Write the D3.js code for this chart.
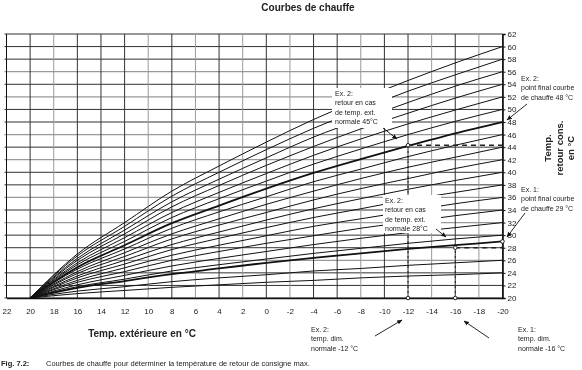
<!DOCTYPE html>
<html>
<head>
<meta charset="utf-8">
<script src="https://cdn.jsdelivr.net/npm/d3@7"></script>
<style>
  body { margin: 0; background: #fff; }
  #chart { will-change: transform; }
  svg { font-family: "Liberation Sans", Arial, Helvetica, sans-serif; -webkit-font-smoothing: antialiased; }
</style>
</head>
<body>
<div id="chart"></div>
<script>
// Température extérieure (axe x) et points lus sur chaque courbe
const outsideTemps = [20, 16, 12, 8, 4, 0, -4, -8, -12, -16, -20];

const c24 = [20, 20.7, 21.2, 21.7, 22.1, 22.5, 22.8, 23.2, 23.5, 23.7, 24];
const c26 = [20, 21.1, 21.8, 22.6, 23.2, 23.7, 24.3, 24.7, 25.2, 25.6, 26];
const c29 = [20, 21.6, 22.7, 23.8, 24.7, 25.6, 26.4, 27.1, 27.8, 28.4, 29];
const c30 = [20, 21.8, 23.0, 24.3, 25.3, 26.2, 27.1, 27.9, 28.7, 29.4, 30];
const c32 = [20, 22.1, 23.6, 25.1, 26.3, 27.4, 28.5, 29.5, 30.4, 31.2, 32];
const c34 = [20, 22.5, 24.2, 26.0, 27.4, 28.7, 29.9, 31.1, 32.1, 33.1, 34];
const c36 = [20, 22.8, 24.8, 26.8, 28.4, 29.9, 31.4, 32.6, 33.8, 35.0, 36];
const c38 = [20, 23.2, 25.4, 27.7, 29.5, 31.2, 32.8, 34.2, 35.6, 36.8, 38];
const c40 = [20, 23.5, 26.0, 28.5, 30.5, 32.4, 34.2, 35.8, 37.3, 38.7, 40];
const c42 = [20, 23.9, 26.6, 29.4, 31.6, 33.6, 35.6, 37.4, 39.0, 40.6, 42];
const c44 = [20, 24.2, 27.2, 30.2, 32.6, 34.9, 37.0, 39.0, 40.8, 42.4, 44];
const c46 = [20, 24.6, 27.8, 31.1, 33.7, 36.1, 38.5, 40.5, 42.5, 44.3, 46];
const c48 = [20, 24.9, 28.4, 31.9, 34.7, 37.4, 39.9, 42.1, 44.2, 46.2, 48];
const c50 = [20, 25.3, 29.0, 32.8, 35.8, 38.6, 41.3, 43.7, 46.0, 48.1, 50];
const c52 = [20, 25.6, 29.6, 33.6, 36.8, 39.8, 42.7, 45.3, 47.7, 49.9, 52];
const c54 = [20, 26.0, 30.2, 34.5, 37.9, 41.1, 44.1, 46.9, 49.4, 51.8, 54];
const c56 = [20, 26.3, 30.8, 35.3, 38.9, 42.3, 45.6, 48.4, 51.1, 53.7, 56];
const c58 = [20, 26.7, 31.4, 36.2, 40.0, 43.6, 47.0, 50.0, 52.9, 55.5, 58];
const c60 = [20, 27.0, 32.0, 37.0, 41.0, 44.8, 48.4, 51.6, 54.6, 57.4, 60];

const curves = [c24, c26, c29, c30, c32, c34, c36, c38, c40, c42, c44, c46, c48, c50, c52, c54, c56, c58, c60];
const boldCurves = [c48, c29];

const xTicks = [22, 20, 18, 16, 14, 12, 10, 8, 6, 4, 2, 0, -2, -4, -6, -8, -10, -12, -14, -16, -18, -20];
const yTicks = [20, 22, 24, 26, 28, 30, 32, 34, 36, 38, 40, 42, 44, 46, 48, 50, 52, 54, 56, 58, 60, 62];
const lightH = [56, 52, 46, 42, 36, 32, 26];
const lightV = [18, 10, 6, 2, -2, -8, -14, -18];

// exemples
const ex1 = { tout: -16, ret: 28, end: 29 };
const ex2 = { tout: -12, ret: 44.3, end: 48 };

const width = 582, height = 370;

const svg = d3.select("#chart").append("svg")
  .attr("width", width)
  .attr("height", height);

const x = d3.scaleLinear().domain([22, -20]).range([6.5, 502.5]);
const y = d3.scaleLinear().domain([20, 62]).range([298, 34]);

svg.append("defs").append("marker")
  .attr("id", "arrow")
  .attr("viewBox", "0 0 10 10")
  .attr("refX", 9).attr("refY", 5)
  .attr("markerWidth", 6).attr("markerHeight", 6)
  .attr("orient", "auto")
  .append("path")
  .attr("d", "M0,1 L10,5 L0,9 z")
  .attr("fill", "#111");

// titre
svg.append("text")
  .attr("x", 308).attr("y", 11)
  .attr("text-anchor", "middle")
  .attr("font-size", "10px")
  .attr("font-weight", "bold")
  .attr("fill", "#222")
  .text("Courbes de chauffe");

// grille
svg.append("g").selectAll("line")
  .data(yTicks)
  .enter().append("line")
  .attr("x1", x(22) - 2).attr("x2", x(-20))
  .attr("y1", d => y(d)).attr("y2", d => y(d))
  .attr("stroke", d => lightH.includes(d) ? "#999" : "#333")
  .attr("stroke-width", d => lightH.includes(d) ? 1.3 : 1);

svg.append("g").selectAll("line")
  .data(xTicks)
  .enter().append("line")
  .attr("x1", d => x(d)).attr("x2", d => x(d))
  .attr("y1", y(62)).attr("y2", y(20))
  .attr("stroke", d => lightV.includes(d) ? "#999" : "#333")
  .attr("stroke-width", 1);

// courbes
const line = d3.line()
  .x((d, i) => x(outsideTemps[i]))
  .y(d => y(d))
  .curve(d3.curveMonotoneX);

svg.append("g").selectAll("path")
  .data(curves)
  .enter().append("path")
  .attr("fill", "none")
  .attr("stroke", "#111")
  .attr("stroke-width", d => boldCurves.includes(d) ? 1.8 : 1)
  .attr("d", line);

// axes
svg.append("g")
  .attr("transform", `translate(0, ${y(20)})`)
  .call(d3.axisBottom(x).tickValues(xTicks).tickFormat(d => String(d)).tickSize(0).tickPadding(10))
  .call(g => g.select(".domain").attr("stroke", "#111").attr("stroke-width", 1.6))
  .call(g => g.selectAll("text").attr("font-size", "8px").attr("fill", "#222").attr("font-family", null));

svg.append("g")
  .attr("transform", `translate(${x(-20)}, 0)`)
  .call(d3.axisRight(y).tickValues(yTicks).tickSize(3).tickPadding(2))
  .call(g => g.select(".domain").attr("stroke", "#111").attr("stroke-width", 1.6))
  .call(g => g.selectAll(".tick line").attr("stroke", "#111"))
  .call(g => g.selectAll("text").attr("font-size", "8px").attr("fill", "#222").attr("font-family", null));

svg.append("line")
  .attr("x1", x(22)).attr("x2", x(22))
  .attr("y1", y(62)).attr("y2", y(20))
  .attr("stroke", "#111");

// exemples : lignes pointillées
const dashed = [
  [ex2.tout, 20, ex2.tout, ex2.ret, "2,3", 1],
  [ex2.tout, ex2.ret, -20, ex2.ret, "5,4", 1.6],
  [ex1.tout, 20, ex1.tout, ex1.ret, "2,3", 1],
  [ex1.tout, ex1.ret, -20, ex1.ret, "5,4", 1.6],
  [-20, ex1.ret, -20, ex1.end, "2,2", 1.6]
];
svg.append("g").selectAll("line")
  .data(dashed)
  .enter().append("line")
  .attr("x1", d => x(d[0])).attr("y1", d => y(d[1]))
  .attr("x2", d => x(d[2])).attr("y2", d => y(d[3]))
  .attr("stroke", "#222")
  .attr("stroke-width", d => d[5])
  .attr("stroke-dasharray", d => d[4]);

svg.append("g").selectAll("circle")
  .data([[ex2.tout, 20], [ex1.tout, 20], [ex2.tout, ex2.ret], [ex1.tout, ex1.ret], [-20, ex1.end]])
  .enter().append("circle")
  .attr("cx", d => x(d[0])).attr("cy", d => y(d[1]))
  .attr("r", 1.8)
  .attr("fill", "#fff")
  .attr("stroke", "#222");

// annotations
const notes = [
  { x: 335, y: 96, box: [332, 88, 60, 40], lines: ["Ex. 2:", "retour en cas", "de temp. ext.", "normale 45°C"] },
  { x: 385, y: 203, box: [383, 195, 58, 38], lines: ["Ex. 2:", "retour en cas", "de temp. ext.", "normale 28°C"] },
  { x: 521, y: 81, box: null, lines: ["Ex. 2:", "point final courbe", "de chauffe 48 °C"] },
  { x: 521, y: 192, box: null, lines: ["Ex. 1:", "point final courbe", "de chauffe 29 °C"] },
  { x: 311, y: 332, box: null, lines: ["Ex. 2:", "temp. dim.", "normale -12 °C"] },
  { x: 518, y: 332, box: null, lines: ["Ex. 1:", "temp. dim.", "normale -16 °C"] }
];

notes.forEach(n => {
  if (n.box) {
    svg.append("rect")
      .attr("x", n.box[0]).attr("y", n.box[1])
      .attr("width", n.box[2]).attr("height", n.box[3])
      .attr("fill", "#fff");
  }
  const t = svg.append("text")
    .attr("x", n.x).attr("y", n.y)
    .attr("font-size", "7px")
    .attr("fill", "#222");
  n.lines.forEach((s, i) => {
    t.append("tspan").attr("x", n.x).attr("dy", i === 0 ? 0 : 9.3).text(s);
  });
});

const arrows = [
  [383, 128, 397, 139],
  [436, 229, 446, 237],
  [527, 104, 507, 120],
  [525, 213, 507, 237],
  [375, 336, 402, 320],
  [489, 338, 464, 321]
];
svg.append("g").selectAll("line")
  .data(arrows)
  .enter().append("line")
  .attr("x1", d => d[0]).attr("y1", d => d[1])
  .attr("x2", d => d[2]).attr("y2", d => d[3])
  .attr("stroke", "#111")
  .attr("stroke-width", 0.9)
  .attr("marker-end", "url(#arrow)");

// titres d'axes
svg.append("text")
  .attr("x", 142).attr("y", 337)
  .attr("text-anchor", "middle")
  .attr("font-size", "10px")
  .attr("font-weight", "bold")
  .attr("fill", "#222")
  .text("Temp. extérieure en °C");

const yTitle = svg.append("text")
  .attr("transform", "translate(551, 148) rotate(-90)")
  .attr("text-anchor", "middle")
  .attr("font-size", "9.5px")
  .attr("font-weight", "bold")
  .attr("fill", "#222");
["Temp.", "retour cons.", "en °C"].forEach((s, i) => {
  yTitle.append("tspan").attr("x", 0).attr("dy", i === 0 ? 0 : 11.5).text(s);
});

// légende de la figure
const cap = svg.append("text")
  .attr("x", 1).attr("y", 366)
  .attr("font-size", "7.5px")
  .attr("fill", "#222");
cap.append("tspan").attr("font-weight", "bold").text("Fig. 7.2:");
cap.append("tspan").attr("x", 46).text("Courbes de chauffe pour déterminer la température de retour de consigne max.");
</script>
</body>
</html>
